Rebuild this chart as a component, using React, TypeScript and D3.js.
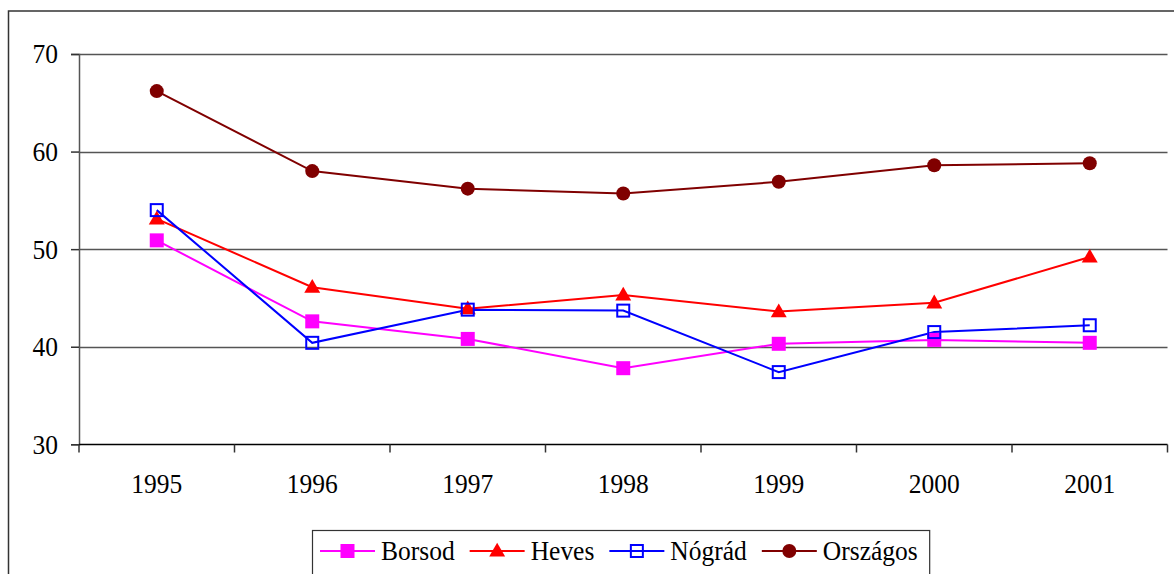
import React from "react";
import * as d3 from "d3";

const years = ["1995", "1996", "1997", "1998", "1999", "2000", "2001"];
const borsod = [50.9, 42.6, 40.8, 37.8, 40.3, 40.7, 40.4];
const heves = [53.1, 46.1, 43.9, 45.3, 43.6, 44.5, 49.2];
const nograd = [54.0, 40.4, 43.8, 43.7, 37.4, 41.5, 42.2];
const orszagos = [66.2, 58.0, 56.2, 55.7, 56.9, 58.6, 58.8];
const yTicks = [30, 40, 50, 60, 70];

const seriesList = [
    { name: "Borsod", values: borsod, color: "#ff00ff", marker: "square" },
    { name: "Heves", values: heves, color: "#ff0000", marker: "triangle" },
    { name: "Nógrád", values: nograd, color: "#0000ff", marker: "open" },
    { name: "Országos", values: orszagos, color: "#800000", marker: "circle" }
];

const FONT = "'Liberation Serif', 'Times New Roman', serif";
const STRETCH = 1.1; // the original glyphs are a bit taller than they are wide

class App extends React.Component {
    chartRef: React.RefObject<SVGSVGElement>;

    constructor(props: any) {
        super(props);
        this.chartRef = React.createRef();
        this.createChart = this.createChart.bind(this);
    }

    drawMarker(g: any, type: string, color: string, cx: number, cy: number) {
        if (type === "square") {
            g.append("rect")
                .attr("x", cx - 7)
                .attr("y", cy - 7)
                .attr("width", 14)
                .attr("height", 14)
                .attr("fill", color);
        } else if (type === "open") {
            g.append("rect")
                .attr("x", cx - 6)
                .attr("y", cy - 6)
                .attr("width", 12)
                .attr("height", 12)
                .attr("fill", "none")
                .attr("stroke", color)
                .attr("stroke-width", 2);
        } else if (type === "triangle") {
            g.append("path")
                .attr("d", d3.symbol().type(d3.symbolTriangle).size(110)())
                .attr("transform", `translate(${cx},${cy + 1})`)
                .attr("fill", color);
        } else {
            g.append("circle")
                .attr("cx", cx)
                .attr("cy", cy)
                .attr("r", 7)
                .attr("fill", color);
        }
    }

    createChart() {
        const svg = d3.select(this.chartRef.current);
        svg.selectAll("*").remove();

        // outer frame (runs off the right and bottom edges)
        svg.append("rect")
            .attr("x", 8.5)
            .attr("y", 11)
            .attr("width", 1200)
            .attr("height", 600)
            .attr("fill", "white")
            .attr("stroke", "#333")
            .attr("stroke-width", 1.5);

        const left = 79;
        const right = 1167.5;
        const x = d3.scaleBand().domain(years).range([left, right]).paddingInner(0).paddingOuter(0);
        const y = d3.scaleLinear().domain([30, 70]).range([444.3, 54]);

        // gridlines
        svg.append("g")
            .selectAll("line")
            .data(yTicks.filter(t => t > 30))
            .enter()
            .append("line")
            .attr("x1", left)
            .attr("x2", right)
            .attr("y1", d => Math.round(y(d)) + 0.5)
            .attr("y2", d => Math.round(y(d)) + 0.5)
            .attr("stroke", "#555")
            .attr("stroke-width", 1.5);

        // y axis
        const yAxis = svg.append("g")
            .attr("transform", `translate(${left},0)`)
            .call(d3.axisLeft(y).tickValues(yTicks).tickSize(8).tickPadding(13).tickFormat(d3.format("d")));
        yAxis.select(".domain").attr("stroke", "#555").attr("stroke-width", 1.5);
        yAxis.selectAll(".tick line").attr("stroke", "#333").attr("stroke-width", 1.5);
        yAxis.selectAll("text")
            .attr("font-family", FONT)
            .attr("font-size", 25.5)
            .attr("fill", "#000")
            .attr("transform", `scale(1,${STRETCH})`);

        // x axis
        const baseY = Math.round(y(30)) + 0.5;
        svg.append("line")
            .attr("x1", left)
            .attr("x2", right)
            .attr("y1", baseY)
            .attr("y2", baseY)
            .attr("stroke", "#000")
            .attr("stroke-width", 1.5);
        const bounds = years.map(yr => x(yr) as number).concat([right]);
        svg.append("g")
            .selectAll("line")
            .data(bounds)
            .enter()
            .append("line")
            .attr("x1", d => d)
            .attr("x2", d => d)
            .attr("y1", baseY)
            .attr("y2", baseY + 8)
            .attr("stroke", "#333")
            .attr("stroke-width", 1.5);
        svg.append("g")
            .selectAll("text")
            .data(years)
            .enter()
            .append("text")
            .attr("transform", d => `translate(${(x(d) as number) + x.bandwidth() / 2},493) scale(1,${STRETCH})`)
            .attr("text-anchor", "middle")
            .attr("font-family", FONT)
            .attr("font-size", 25.5)
            .text(d => d);

        const cx = (i: number) => (x(years[i]) as number) + x.bandwidth() / 2;

        // series
        seriesList.forEach(s => {
            const line = d3.line<number>()
                .x((d, i) => cx(i))
                .y(d => y(d));
            svg.append("path")
                .attr("d", line(s.values))
                .attr("fill", "none")
                .attr("stroke", s.color)
                .attr("stroke-width", 2);
        });
        seriesList.forEach(s => {
            const g = svg.append("g");
            s.values.forEach((v, i) => this.drawMarker(g, s.marker, s.color, cx(i), y(v)));
        });

        // legend
        const legend = svg.append("g");
        const box = legend.append("rect")
            .attr("x", 312.5)
            .attr("y", 530.5)
            .attr("width", 620)
            .attr("height", 60)
            .attr("fill", "white")
            .attr("stroke", "#333")
            .attr("stroke-width", 1.2);
        let lx = 320;
        const ly = 551;
        seriesList.forEach(s => {
            legend.append("line")
                .attr("x1", lx)
                .attr("x2", lx + 55)
                .attr("y1", ly)
                .attr("y2", ly)
                .attr("stroke", s.color)
                .attr("stroke-width", 2);
            this.drawMarker(legend, s.marker, s.color, lx + 27.5, ly);
            const t = legend.append("text")
                .attr("transform", `translate(${lx + 61},560) scale(1,${STRETCH})`)
                .attr("font-family", FONT)
                .attr("font-size", 25.5)
                .text(s.name);
            const w = (t.node() as SVGTextElement).getComputedTextLength();
            lx = lx + 61 + w + 15;
        });
        box.attr("width", lx - 15 + 12 - 312.5);
    }

    componentDidMount() {
        this.createChart();
    }

    render() {
        return (
            <svg
                ref={this.chartRef}
                width={1174}
                height={574}
                style={{ position: "absolute", left: 0, top: 0, background: "white" }}
            />
        );
    }
}

export default App;
